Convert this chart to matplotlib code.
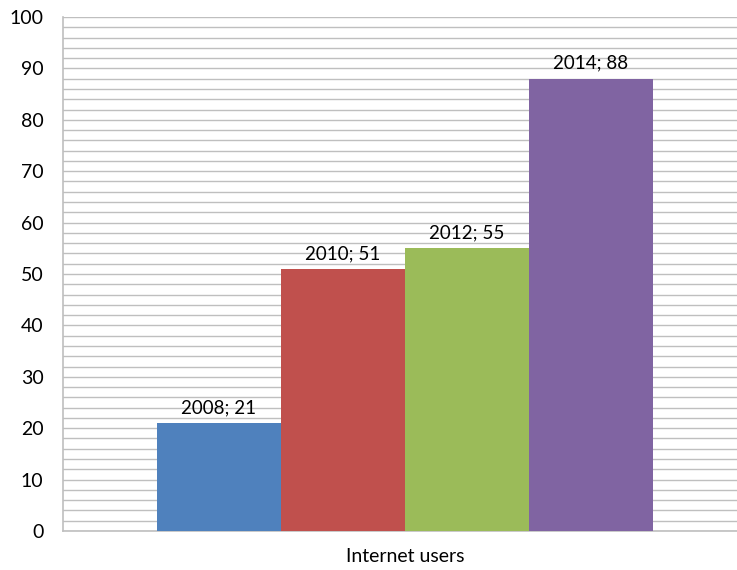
import matplotlib
matplotlib.use("Agg")
import matplotlib.pyplot as plt
import numpy as np

years = ["2008", "2010", "2012", "2014"]
values = [21, 51, 55, 88]
colors = ["#4F81BD", "#C0504D", "#9BBB59", "#8064A2"]
category = "Internet users"

plt.rcParams['font.family'] = ['Lato', 'DejaVu Sans']

W, H = 737, 570
fig = plt.figure(figsize=(W/100, H/100), dpi=100)
ax = fig.add_axes([63/W, 1-531/H, (W-63)/W, (531-17)/H])

offsets = np.arange(len(values)) - (len(values)-1)/2
for off, v, c, y in zip(offsets, values, colors, years):
    ax.bar(off, v, width=1.0, color=c, zorder=3)
    ax.annotate(f"{y}; {v}", (off, v), xytext=(0, 5), textcoords="offset points",
                ha="center", va="bottom", fontsize=13.5, color="black", zorder=4)

ax.set_xlim(-2.758, 2.677)
ax.set_ylim(0, 100)
ax.set_yticks(np.arange(0, 101, 10))
ax.set_yticks(np.arange(0, 101, 2), minor=True)
ax.yaxis.grid(True, which="both", color="#bfbfbf", linewidth=1.0, zorder=0)
ax.set_axisbelow(True)
ax.tick_params(axis="y", which="both", length=0, pad=14, labelsize=14)
ax.set_xticks([0])
ax.set_xticklabels([category])
ax.tick_params(axis="x", length=0, pad=12, labelsize=14)
for s in ["top", "right"]:
    ax.spines[s].set_visible(False)
for s in ["left", "bottom"]:
    ax.spines[s].set_color("#bfbfbf")
    ax.spines[s].set_linewidth(1.2)

fig.savefig("out.png", dpi=100)
